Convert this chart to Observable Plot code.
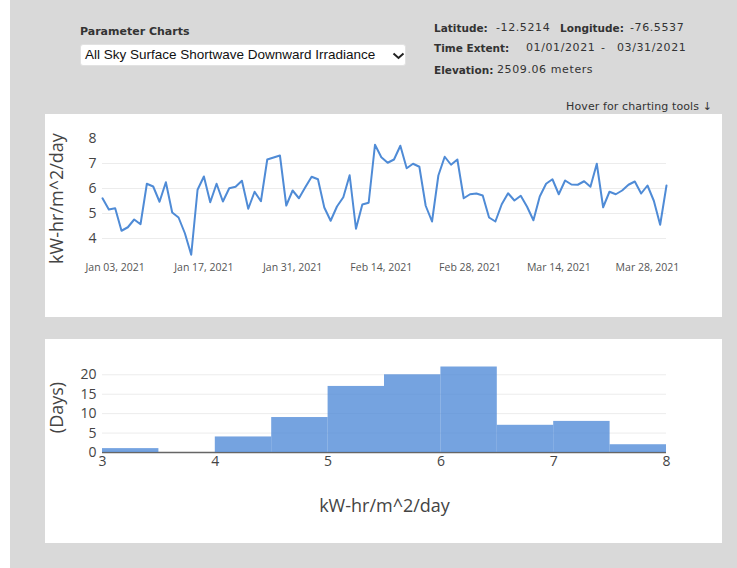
<!DOCTYPE html>
<html><head><meta charset="utf-8">
<script src="https://cdn.jsdelivr.net/npm/d3@7"></script>
<script src="https://cdn.jsdelivr.net/npm/@observablehq/plot@0.6"></script>
<style>
html,body{margin:0;padding:0;}
body{width:737px;height:568px;background:#fff;position:relative;overflow:hidden;font-family:"DejaVu Sans",sans-serif;}
#bg{position:absolute;left:10px;top:0;width:727px;height:568px;background:#d9d9d9;}
.abs{position:absolute;white-space:nowrap;}
.panel{position:absolute;left:45px;width:677px;background:#fff;}
.lbl{position:absolute;white-space:nowrap;font-size:10.5px;font-weight:bold;color:#333;}
.val{position:absolute;white-space:nowrap;font-size:11px;letter-spacing:0.6px;color:#333;}
</style></head><body>
<div id="bg"></div>
<div class="abs" style="left:80px;top:25px;font-weight:bold;font-size:11px;color:#333">Parameter Charts</div>
<div class="abs" style="left:80px;top:44px;width:326px;height:22px;background:#fff;border-radius:3px;box-sizing:border-box;border:1px solid #e2e2e2">
  <span style="position:absolute;left:4px;top:2px;font-family:'Liberation Sans',Arial,sans-serif;font-size:13.5px;color:#111">All Sky Surface Shortwave Downward Irradiance</span>
  <svg style="position:absolute;left:311px;top:7px" width="13" height="8"><polyline points="1.5,1.5 6.5,6 11.5,1.5" fill="none" stroke="#222" stroke-width="2"/></svg>
</div>
<div class="lbl" style="left:434px;top:22px">Latitude:</div>
<div class="val" style="left:496px;top:21px">-12.5214</div>
<div class="lbl" style="left:560px;top:22px">Longitude:</div>
<div class="val" style="left:630px;top:21px">-76.5537</div>
<div class="lbl" style="left:434px;top:42px">Time Extent:</div>
<div class="val" style="left:526px;top:41px">01/01/2021</div>
<div class="val" style="left:601px;top:41px">-</div>
<div class="val" style="left:617px;top:41px">03/31/2021</div>
<div class="lbl" style="left:434px;top:64px">Elevation:</div>
<div class="val" style="left:497px;top:63px">2509.06 meters</div>
<div class="abs" style="right:25px;top:100px;font-size:11px;letter-spacing:0.1px;color:#333">Hover for charting tools ↓</div>
<div class="panel" id="p1" style="top:114px;height:203px"></div>
<div class="panel" id="p2" style="top:339px;height:204px"></div>
<script>
const startDate = "2021-01-01";
const dailyValues = [
  5.61,5.16,5.21,4.31,4.45,4.76,4.57,6.19,6.08,5.47,
  6.25,5.04,4.84,4.21,3.35,5.95,6.48,5.45,6.19,5.48,
  6.01,6.07,6.31,5.19,5.87,5.49,7.16,7.24,7.32,5.32,
  5.92,5.61,6.05,6.47,6.37,5.24,4.71,5.28,5.65,6.53,
  4.39,5.36,5.43,7.75,7.25,7.03,7.16,7.71,6.81,6.99,
  6.87,5.31,4.68,6.52,7.27,6.95,7.16,5.61,5.77,5.80,
  5.72,4.84,4.68,5.37,5.81,5.52,5.71,5.27,4.73,5.68,
  6.19,6.37,5.77,6.32,6.16,6.15,6.29,6.07,6.99,5.25,
  5.87,5.77,5.92,6.15,6.28,5.80,6.12,5.51,4.55,6.12
];
const dateTicks = ["2021-01-03","2021-01-17","2021-01-31","2021-02-14","2021-02-28","2021-03-14","2021-03-28"];
const lineYTicks = [4,5,6,7,8];
const lineYGrid = [4,5,6,7];
const binStarts = [3,3.5,4,4.5,5,5.5,6,6.5,7,7.5];
const binEnds   = [3.5,4,4.5,5,5.5,6,6.5,7,7.5,8];
const binCounts = [1,0,4,9,17,20,22,7,8,2];
const histXTicks = [3,4,5,6,7,8];
const histYTicks = [0,5,10,15,20];
const unitLabel = "kW-hr/m^2/day";
const countLabel = "(Days)";

const start = new Date(startDate + "T00:00:00Z");
const series = dailyValues.map((v, i) => ({date: d3.utcDay.offset(start, i), value: v}));
const bins = binCounts.map((c, i) => ({x1: binStarts[i], x2: binEnds[i], count: c}));

const lineChart = Plot.plot({
  width: 677, height: 203,
  marginLeft: 57, marginRight: 56, marginTop: 24, marginBottom: 59,
  style: {fontFamily: "'Open Sans', sans-serif", background: "transparent", overflow: "visible"},
  x: {type: "utc", domain: [series[0].date, series[series.length - 1].date]},
  y: {domain: [3.2, 8]},
  marks: [
    Plot.ruleY(lineYGrid, {stroke: "#ececec", strokeWidth: 1}),
    Plot.axisY(lineYTicks, {tickSize: 0, tickPadding: 6, fontSize: 14, fill: "#444", label: null}),
    Plot.axisX(dateTicks.map(d => new Date(d + "T00:00:00Z")), {tickSize: 0, tickPadding: 5, fontSize: 10.5, fill: "#555", tickFormat: d3.utcFormat("%b %d, %Y"), label: null}),
    Plot.line(series, {x: "date", y: "value", stroke: "#4f8bd6", strokeWidth: 2}),
    Plot.text([unitLabel], {text: d => d, frameAnchor: "left", textAnchor: "middle", lineAnchor: "middle", dx: -45, rotate: -90, fontSize: 18, fill: "#444"})
  ]
});
document.getElementById("p1").appendChild(lineChart);

const histChart = Plot.plot({
  width: 677, height: 204,
  marginLeft: 57, marginRight: 56, marginTop: 23, marginBottom: 91,
  style: {fontFamily: "'Open Sans', sans-serif", background: "transparent", overflow: "visible"},
  x: {domain: [3, 8]},
  y: {domain: [0, 23.16]},
  marks: [
    Plot.ruleY(histYTicks.filter(t => t > 0), {stroke: "#ececec", strokeWidth: 1}),
    Plot.ruleY([0], {stroke: "#666", strokeWidth: 1.5}),
    Plot.rectY(bins, {x1: "x1", x2: "x2", y: "count", fill: "#4a86d6", fillOpacity: 0.76, inset: 0}),
    Plot.axisY(histYTicks, {tickSize: 0, tickPadding: 6, fontSize: 14, fill: "#444", label: null}),
    Plot.axisX(histXTicks, {tickSize: 0, tickPadding: 4, fontSize: 14, fill: "#444", label: null}),
    Plot.text([unitLabel], {text: d => d, frameAnchor: "bottom", textAnchor: "middle", lineAnchor: "middle", dy: 54, fontSize: 18, fill: "#444"}),
    Plot.text([countLabel], {text: d => d, frameAnchor: "left", textAnchor: "middle", lineAnchor: "middle", dx: -45, rotate: -90, fontSize: 18, fill: "#444"})
  ]
});
document.getElementById("p2").appendChild(histChart);
</script>
</body></html>
